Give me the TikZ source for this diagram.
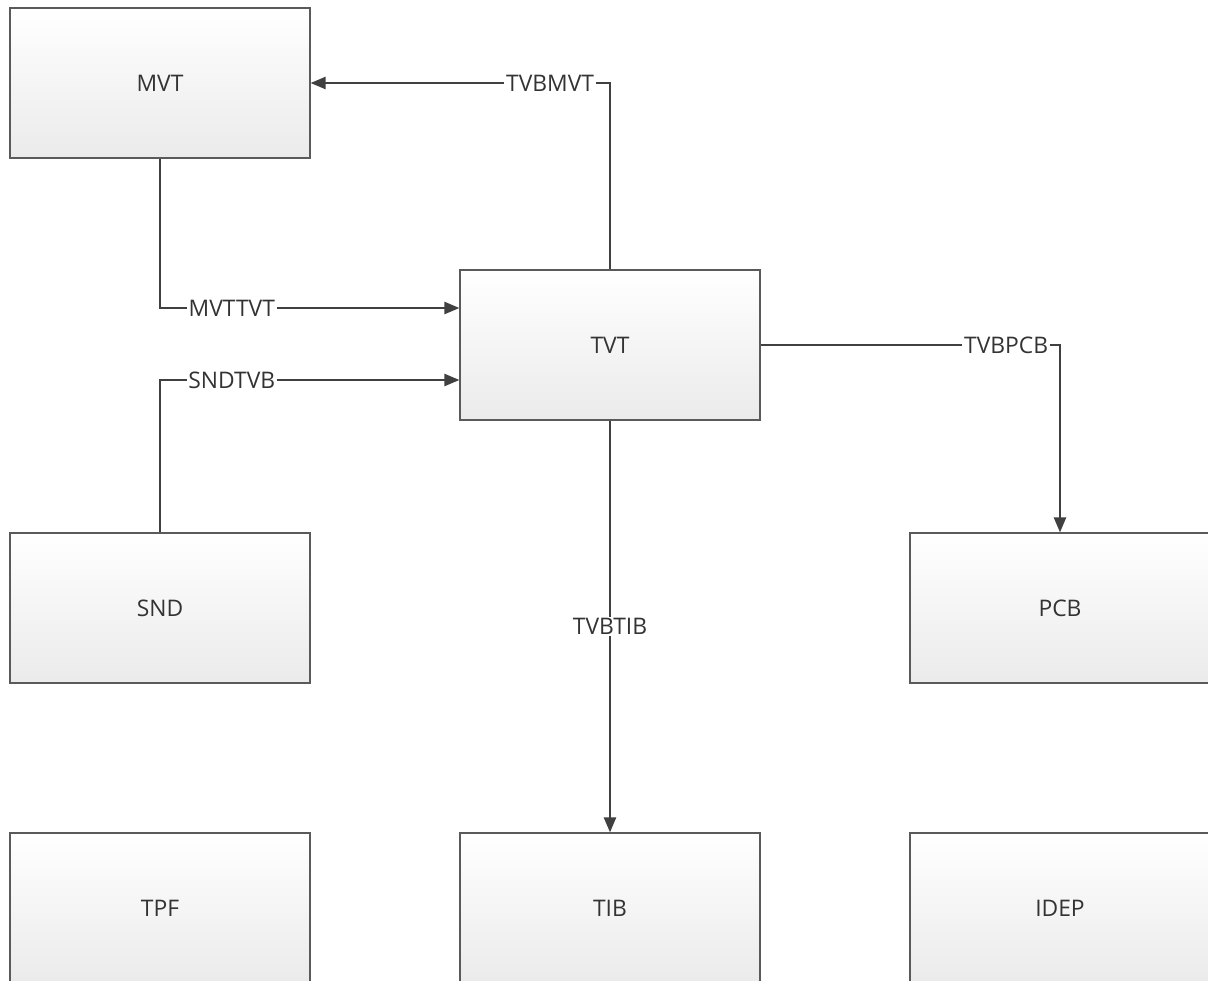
\documentclass[tikz,border=0pt]{standalone}
\usepackage{fontspec}
\setmainfont{Open Sans}
\definecolor{linegray}{RGB}{64,64,64}
\definecolor{boxgray}{RGB}{90,90,90}
\definecolor{textgray}{RGB}{51,51,51}
\usetikzlibrary{arrows.meta,positioning,calc}

\begin{document}
\begin{tikzpicture}[x=0.02cm, y=-0.02cm,
    block/.style={draw=boxgray, line width=0.8pt, top color=white, bottom color=black!8,
        minimum width=6cm, minimum height=3cm, inner sep=0pt,
        font=\fontsize{13}{15}\selectfont, text=textgray},
    link/.style={draw=linegray, line width=0.8pt, -{Triangle[length=8.5pt, width=7pt]}},
    tag/.style={fill=white, inner sep=1pt, font=\fontsize{13}{15}\selectfont, text=textgray}]
    \useasboundingbox (0,0) rectangle (1208,981);
    \clip (0,0) rectangle (1208,981);

    % Blocks
    \node[block] (mvt) at (160,83) {MVT};
    \node[block] (tvt) at (610,345) {TVT};
    \node[block] (snd) at (160,608) {SND};
    \node[block] (pcb) at (1060,608) {PCB};
    \node[block] (tpf) at (160,908) {TPF};
    \node[block] (tib) at (610,908) {TIB};
    \node[block] (idep) at (1060,908) {IDEP};

    % Links
    \draw[link] (tvt.north) |- node[tag, pos=0.6] {TVBMVT} (mvt.east);
    \draw[link] (mvt.south) |- node[tag, pos=0.62] {MVTTVT} ([yshift=0.74cm]tvt.west);
    \draw[link] (snd.north) |- node[tag, pos=0.62] {SNDTVB} ([yshift=-0.7cm]tvt.west);
    \draw[link] (tvt.east) -| node[tag, pos=0.41] {TVBPCB} (pcb.north);
    \draw[link] (tvt.south) -- node[tag, pos=0.5] {TVBTIB} (tib.north);
\end{tikzpicture}
\end{document}
